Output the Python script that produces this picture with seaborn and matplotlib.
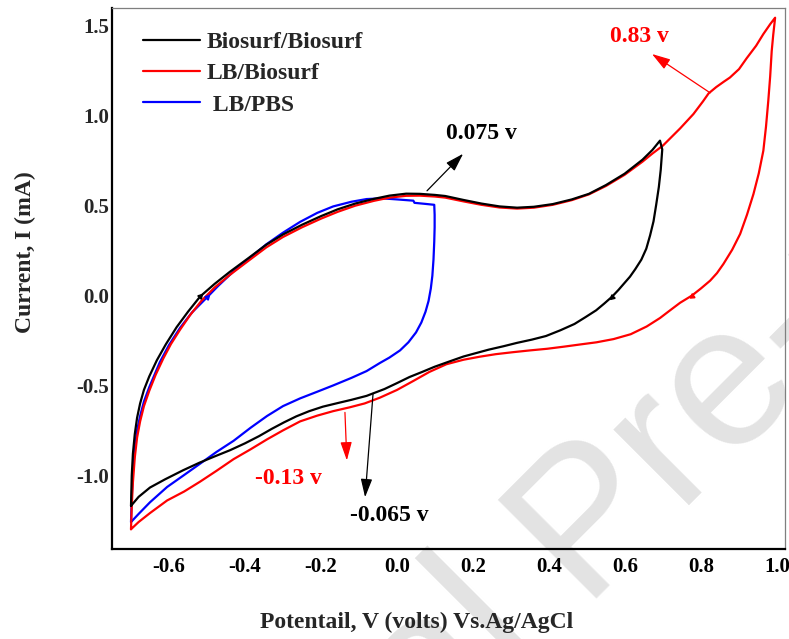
import matplotlib
matplotlib.use("Agg")
import matplotlib.pyplot as plt
import pandas as pd
import seaborn as sns

# ---------------- data ----------------
series_names = ["Biosurf/Biosurf", "LB/Biosurf", " LB/PBS"]
series_colors = ["#000000", "#ff0000", "#0000ff"]

black_v = [-0.700, -0.698, -0.695, -0.690, -0.684, -0.676, -0.666, -0.652, -0.632, -0.608,
           -0.580, -0.550, -0.518, -0.480, -0.440, -0.390, -0.344, -0.300, -0.250, -0.200,
           -0.156, -0.110, -0.061, -0.020, 0.024, 0.060, 0.100, 0.127, 0.175, 0.222,
           0.270, 0.316, 0.360, 0.410, 0.460, 0.505, 0.550, 0.599, 0.646, 0.672, 0.692,
           0.698, 0.694, 0.689, 0.682, 0.675, 0.666, 0.656, 0.643, 0.627, 0.613,
           0.599, 0.583, 0.566, 0.545, 0.524, 0.496, 0.467, 0.430, 0.392, 0.355,
           0.316, 0.280, 0.241, 0.208, 0.175, 0.140, 0.099, 0.066, 0.033, 0.000,
           -0.033, -0.080, -0.120, -0.156, -0.195, -0.231, -0.265, -0.297, -0.330, -0.363,
           -0.400, -0.439, -0.480, -0.520, -0.563, -0.610, -0.650, -0.680, -0.700]
black_i = [-1.170, -1.000, -0.880, -0.770, -0.680, -0.600, -0.525, -0.450, -0.360, -0.270,
           -0.176, -0.090, -0.005, 0.065, 0.132, 0.210, 0.283, 0.340, 0.394, 0.442,
           0.480, 0.512, 0.538, 0.556, 0.567, 0.566, 0.560, 0.554, 0.532, 0.512,
           0.496, 0.489, 0.494, 0.509, 0.535, 0.566, 0.615, 0.678, 0.756, 0.810, 0.862,
           0.813, 0.700, 0.604, 0.505, 0.413, 0.335, 0.261, 0.200, 0.147, 0.105,
           0.071, 0.032, -0.006, -0.045, -0.082, -0.120, -0.158, -0.193, -0.225, -0.245,
           -0.263, -0.282, -0.301, -0.320, -0.339, -0.365, -0.396, -0.425, -0.453, -0.487,
           -0.520, -0.558, -0.580, -0.598, -0.618, -0.643, -0.672, -0.705, -0.742, -0.782,
           -0.822, -0.860, -0.895, -0.930, -0.972, -1.022, -1.068, -1.120, -1.170]

red_v = [-0.700, -0.698, -0.695, -0.690, -0.684, -0.676, -0.666, -0.652, -0.635, -0.615,
         -0.595, -0.571, -0.545, -0.515, -0.480, -0.440, -0.390, -0.344, -0.300, -0.250,
         -0.200, -0.156, -0.110, -0.061, -0.020, 0.024, 0.060, 0.100, 0.127, 0.175,
         0.222, 0.270, 0.316, 0.360, 0.410, 0.460, 0.505, 0.550, 0.599, 0.646,
         0.672, 0.700, 0.745, 0.780, 0.805, 0.820, 0.840, 0.860, 0.876, 0.900,
         0.920, 0.945, 0.964, 0.982, 0.995,
         0.990, 0.986, 0.982, 0.977, 0.971, 0.964, 0.952, 0.938, 0.921, 0.903,
         0.882, 0.859, 0.842, 0.824, 0.800, 0.776, 0.745, 0.718, 0.692, 0.657,
         0.615, 0.570, 0.525, 0.482, 0.440, 0.395, 0.350, 0.305, 0.260, 0.218,
         0.175, 0.130, 0.085, 0.043, 0.000, -0.045, -0.085, -0.125, -0.168, -0.210,
         -0.255, -0.300, -0.342, -0.385, -0.430, -0.475, -0.518, -0.560, -0.605, -0.650,
         -0.680, -0.700]
red_i = [-1.300, -1.170, -1.040, -0.900, -0.790, -0.700, -0.615, -0.530, -0.440, -0.350,
         -0.270, -0.190, -0.110, -0.030, 0.045, 0.115, 0.195, 0.268, 0.326, 0.380,
         0.428, 0.466, 0.500, 0.527, 0.545, 0.555, 0.556, 0.551, 0.545, 0.524,
         0.505, 0.490, 0.484, 0.489, 0.505, 0.531, 0.563, 0.610, 0.672, 0.745,
         0.790, 0.835, 0.930, 1.010, 1.080, 1.125, 1.160, 1.190, 1.213, 1.260,
         1.320, 1.390, 1.455, 1.510, 1.546,
         1.450, 1.360, 1.220, 1.083, 0.940, 0.806, 0.680, 0.565, 0.450, 0.343,
         0.255, 0.176, 0.125, 0.083, 0.040, 0.000, -0.040, -0.083, -0.125, -0.172,
         -0.215, -0.242, -0.260, -0.272, -0.284, -0.296, -0.305, -0.315, -0.326, -0.340,
         -0.357, -0.382, -0.425, -0.475, -0.525, -0.568, -0.600, -0.622, -0.643, -0.668,
         -0.700, -0.750, -0.800, -0.855, -0.910, -0.975, -1.035, -1.090, -1.140, -1.210,
         -1.260, -1.300]

blue_v = [-0.700, -0.698, -0.695, -0.690, -0.684, -0.676, -0.666, -0.652, -0.635, -0.624,
          -0.600, -0.571, -0.540, -0.500, -0.470, -0.430, -0.390, -0.344, -0.300, -0.255,
          -0.210, -0.168, -0.120, -0.080, -0.040, 0.000, 0.043, 0.046, 0.075, 0.098,
          0.099, 0.099, 0.098, 0.096, 0.093, 0.089, 0.083, 0.075, 0.064, 0.050,
          0.030, 0.008, -0.020, -0.045, -0.080, -0.120, -0.168, -0.210, -0.255, -0.300,
          -0.342, -0.385, -0.430, -0.475, -0.518, -0.560, -0.605, -0.650, -0.680, -0.700]
blue_i = [-1.260, -1.120, -0.980, -0.850, -0.750, -0.670, -0.590, -0.510, -0.425, -0.370,
          -0.275, -0.180, -0.095, -0.010, 0.055, 0.135, 0.205, 0.285, 0.350, 0.410,
          0.460, 0.496, 0.522, 0.537, 0.541, 0.535, 0.528, 0.516, 0.510, 0.505,
          0.450, 0.380, 0.300, 0.200, 0.110, 0.040, -0.030, -0.090, -0.150, -0.205,
          -0.260, -0.305, -0.345, -0.375, -0.420, -0.458, -0.500, -0.535, -0.572, -0.615,
          -0.670, -0.735, -0.808, -0.870, -0.935, -0.998, -1.065, -1.150, -1.215, -1.260]

# small scan-direction arrowheads sitting on the curves
marker_v = [-0.518, -0.500, 0.566, 0.776]
marker_i = [-0.005, -0.010, -0.006, 0.000]
marker_angle = [-44, -44, 134, 125]
marker_color = ["#000000", "#0000ff", "#000000", "#ff0000"]

x_ticks = [-0.6, -0.4, -0.2, 0.0, 0.2, 0.4, 0.6, 0.8, 1.0]
x_tick_labels = ["-0.6", "-0.4", "-0.2", "0.0", "0.2", "0.4", "0.6", "0.8", "1.0"]
x_minor = [-0.7, -0.5, -0.3, -0.1, 0.1, 0.3, 0.5, 0.7, 0.9]
y_ticks = [-1.0, -0.5, 0.0, 0.5, 1.0, 1.5]
y_tick_labels = ["-1.0", "-0.5", "0.0", "0.5", "1.0", "1.5"]

# annotations
ann_text = ["0.075 v", "0.83 v", "-0.13 v", "-0.065 v"]
ann_text_xy = [(0.221, 0.90), (0.639, 1.44), (-0.287, -1.017), (-0.021, -1.222)]
ann_tail_xy = [(0.079, 0.583), (0.824, 1.128), (-0.137, -0.650), (-0.063, -0.544)]
ann_tip_xy = [(0.174, 0.789), (0.671, 1.344), (-0.132, -0.917), (-0.084, -1.122)]
ann_color = ["#000000", "#ff0000", "#ff0000", "#000000"]

# ---------------- figure ----------------
sns.set_style("white")
plt.rcParams["font.family"] = ["Liberation Serif", "DejaVu Serif"]
plt.rcParams["font.weight"] = "bold"

frames = []
for name, v, i in zip(series_names, [black_v, red_v, blue_v], [black_i, red_i, blue_i]):
    frames.append(pd.DataFrame({"V": v, "I": i, "sample": name}))
df = pd.concat(frames, ignore_index=True)

W, H = 789, 639
fig = plt.figure(figsize=(W / 100, H / 100), dpi=100)
ax = fig.add_axes([112 / W, 1 - 549 / H, (785 - 112) / W, (549 - 8) / H])
ax.set_facecolor("none")

# watermark
wm_kw = dict(rotation=45, rotation_mode="anchor", va="baseline", fontsize=146,
             color="#e3e3e3", family="Liberation Sans", weight="normal", zorder=-1)
fig.text(580 / W, 1 - 598 / H, "Pre-proof", ha="left", **wm_kw)
fig.text(541 / W, 1 - 637 / H, "Journal", ha="right", **wm_kw)

sns.lineplot(data=df, x="V", y="I", hue="sample", hue_order=series_names,
             palette=series_colors, sort=False, estimator=None, lw=1.6, ax=ax)
zorders = {"#000000": 3.0, "#ff0000": 2.6, "#0000ff": 2.2}
for ln in ax.lines:
    c = matplotlib.colors.to_hex(ln.get_color())
    if c in zorders:
        ln.set_zorder(zorders[c])

for mv, mi, ma, mc in zip(marker_v, marker_i, marker_angle, marker_color):
    ax.plot([mv], [mi], marker=(3, 0, ma), ms=4, color=mc, ls="none", zorder=4)

for t, txy, tail, tip, c in zip(ann_text, ann_text_xy, ann_tail_xy, ann_tip_xy, ann_color):
    ax.annotate("", xy=tip, xytext=tail,
                arrowprops=dict(arrowstyle="-|>,head_length=0.8,head_width=0.25",
                                color=c, lw=0.9, shrinkA=0, shrinkB=0, mutation_scale=14))
    ax.text(txy[0], txy[1], t, color=c, ha="center", va="center",
            fontsize=17, fontweight="bold")

ax.set_xlim(-0.75, 1.021)
ax.set_ylim(-1.41, 1.6)
ax.set_xticks(x_ticks)
ax.set_xticklabels(x_tick_labels)
ax.set_xticks(x_minor, minor=True)
ax.set_yticks(y_ticks)
ax.set_yticklabels(y_tick_labels)

ax.tick_params(axis="x", which="both", direction="in", length=4, width=0.8,
               pad=6, labelsize=15, colors="black")
ax.tick_params(axis="y", which="both", length=0, pad=2, labelsize=15)
for lab in ax.get_xticklabels() + ax.get_yticklabels():
    lab.set_fontweight("bold")

for s in ["left", "bottom"]:
    ax.spines[s].set_linewidth(1.6)
    ax.spines[s].set_color("black")
for s in ["top", "right"]:
    ax.spines[s].set_linewidth(0.9)
    ax.spines[s].set_color("#7f7f7f")

ax.set_xlabel("Potentail, V (volts) Vs.Ag/AgCl", fontsize=17, fontweight="bold")
ax.xaxis.set_label_coords(0.453, -0.135)
ax.xaxis.label.set_va("center")
ax.set_ylabel("Current, I (mA)", fontsize=17, fontweight="bold")
ax.yaxis.set_label_coords(-0.129, 0.549)
ax.yaxis.label.set_va("center")

handles, labels = ax.get_legend_handles_labels()
ax.legend(handles[:3], labels[:3], loc="upper left", bbox_to_anchor=(0.046, 0.957),
          frameon=False, prop={"size": 17, "weight": "bold"}, handlelength=2.4,
          handletextpad=0.3, labelspacing=0.42, borderaxespad=0, borderpad=0)

fig.savefig("out.png", dpi=100)
